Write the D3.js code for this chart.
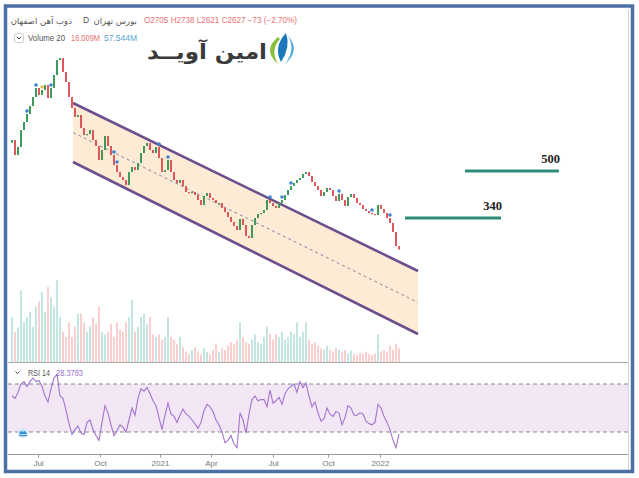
<!DOCTYPE html>
<html><head><meta charset="utf-8">
<script src="https://cdn.jsdelivr.net/npm/d3@7"></script>
<style>html,body{margin:0;padding:0;background:#fff;} svg{display:block;font-family:"Liberation Sans","DejaVu Sans",Arial,sans-serif;}</style>
</head><body><svg id="c" width="639" height="478"></svg>
<script>
// ---- data ----
const closes = [6443,5697,6084,6993,7468,7973,8512,9167,9867,9319,
 9707,10113,9093,9867,10978,12414,12619,11252,10365,9167,
 8374,7781,7909,7108,6712,6768,6993,6443,6134,5468,
 5936,6658,6134,5697,5249,4956,4758,4642,4455,4956,
 5163,5038,5335,5792,6134,6286,5936,5792,6084,5558,
 4956,5038,5468,4956,4642,4529,4642,4420,4207,4173,
 4207,4105,3941,3783,4072,4173,4006,3941,3845,3845,
 3691,3572,3428,3291,3184,3081,3372,3210,2934,2886,
 3210,3400,3513,3543,3631,3941,3845,3752,3691,3845,
 3941,4105,4277,4420,4529,4642,4719,4876,4956,4797,
 4567,4420,4277,4072,4207,4348,4277,4072,3909,4139,
 3941,3752,4038,4139,4006,3845,3783,3661,3601,3543,
 3513,3485,3783,3661,3543,3400,3264,3031,2700,2627];
const firstOpen = 6300;
const volumes = [52,35,40,83,46,52,58,41,64,70,
 81,58,87,75,64,95,52,35,29,46,
 29,41,56,56,46,35,41,52,44,64,
 35,32,35,44,29,46,37,35,46,52,
 72,35,41,52,56,44,52,32,29,32,
 26,29,52,29,26,21,29,17,12,9,
 14,17,12,9,16,12,9,14,21,12,
 16,14,19,23,21,26,46,29,23,21,
 26,32,23,21,29,41,32,26,32,29,
 35,26,29,35,32,46,29,35,46,26,
 21,23,19,16,14,19,14,12,16,14,
 12,14,10,13,9,8,10,9,12,9,
 8,10,32,12,14,12,19,14,21,16];
const rsiValues = [60,58,63,70,72,68,72,75,72,73,
 68,60,55,66,75,78,60,58,48,37,
 28,32,35,29,28,38,40,32,27,23,
 38,52,46,36,27,31,36,34,30,40,
 50,44,58,66,64,67,62,56,52,42,
 32,44,54,45,43,38,44,49,45,43,
 40,37,33,38,48,53,51,47,40,36,
 30,21,23,27,20,17,46,40,29,45,
 57,60,56,57,57,51,65,54,56,59,
 53,62,66,68,70,63,72,67,71,60,
 51,55,46,39,41,50,45,43,47,46,
 36,42,52,50,44,44,46,45,39,37,
 36,38,53,50,43,38,32,23,17,28.38];
const tickIdx = [8.67, 29.33, 49.33, 66.33, 87, 105.33, 122.67];
const tickLabels = ["Jul","Oct","2021","Apr","Jul","Oct","2022"];
const levelValues = [340, 500];          // toman
const levelLabels = ["340", "500"];
const levelFrom = [131, 151];             // bar index
const levelTo = [163, 182.3];
const channelIdx = [20.33, 135.33];
const channelUpper = [8727, 2202];
const channelLower = [5380, 1314];
const rsiBands = [70, 30];
const signalIdx = [5, 8, 13, 34, 35, 49, 52, 86, 90, 93, 109, 120, 126];
const signalAltIdx = [10];
const last = {o:2705, h:2738, l:2621, c:2627};
const volumeNow = "16.009M", volumeMA = "57.544M";
const rsiNow = "28.3783";
const symbolName = "ذوب آهن اصفهان", exchange = "بورس تهران", logoText = "امین آویــد";

// ---- drawing ----
const svg = d3.select("#c");
svg.append("rect").attr("width",639).attr("height",478).attr("fill","#fff");

const x = d3.scaleLinear().domain([0, closes.length-1]).range([12, 399]);
const y = d3.scaleLog().domain([1061.6, 14626]).range([360, 40]);
const yv = d3.scaleLinear().domain([0,95]).range([362,280]);
const yr = d3.scaleLinear().domain([30,70]).range([432,384]);

const candles = closes.map((c,i)=>({i, o: i===0?firstOpen:closes[i-1], c, v: volumes[i]}));
const up = "#3f9a5a", dn = "#e0565a";

// volume
svg.append("g").selectAll("rect").data(candles).join("rect")
  .attr("x", d=>x(d.i)-1).attr("width",2)
  .attr("y", d=>yv(d.v)).attr("height", d=>yv(0)-yv(d.v))
  .attr("fill", d=> d.c>=d.o ? "rgba(38,166,154,0.28)" : "rgba(239,83,80,0.28)");

// channel
const cu = channelIdx.map((i,k)=>[x(i), y(channelUpper[k])]);
const cl = channelIdx.map((i,k)=>[x(i), y(channelLower[k])]);
svg.append("path").attr("d", d3.line()([cu[0],cu[1],cl[1],cl[0]])+"Z")
  .attr("fill","#fdebd6");
const mid = [0,1].map(k=>[cu[k][0], (cu[k][1]+cl[k][1])/2]);
svg.append("path").attr("d", d3.line()(mid)).attr("stroke","#7f8aa0").attr("stroke-width",1)
  .attr("stroke-dasharray","3,3").attr("fill","none");
[cu,cl].forEach(p=>svg.append("path").attr("d", d3.line()(p)).attr("stroke","#6d4f8e")
  .attr("stroke-width",2.6).attr("fill","none"));

// candles
svg.append("g").selectAll("rect").data(candles).join("rect")
  .attr("x", d=>x(d.i)-1).attr("width",2)
  .attr("y", d=>Math.min(y(d.o),y(d.c)))
  .attr("height", d=>Math.max(1.2, Math.abs(y(d.o)-y(d.c))))
  .attr("fill", d=> d.c>=d.o ? up : dn);

// signal dots
svg.append("g").selectAll("circle").data(signalIdx).join("circle")
  .attr("cx", i=>x(i)).attr("cy", i=>Math.min(y(candles[i].o),y(candles[i].c))-3)
  .attr("r",1.8).attr("fill","#3a86c8");
svg.append("g").selectAll("circle").data(signalAltIdx).join("circle")
  .attr("cx", i=>x(i)).attr("cy", i=>Math.min(y(candles[i].o),y(candles[i].c))-3)
  .attr("r",1.8).attr("fill","#e8c24a");

// levels
levelValues.forEach((v,k)=>{
  const yy = y(v*10);
  svg.append("line").attr("x1",x(levelFrom[k])).attr("x2",x(levelTo[k]))
    .attr("y1",yy).attr("y2",yy).attr("stroke","#2e8b78").attr("stroke-width",3);
  svg.append("text").attr("x",x(levelTo[k])+1).attr("y",yy-8).attr("text-anchor","end")
    .attr("font-family","'Liberation Serif',serif").attr("font-weight","bold")
    .attr("font-size",12.5).attr("fill","#222").text(levelLabels[k]);
});

// pane separators
svg.append("line").attr("x1",8).attr("x2",628).attr("y1",362.5).attr("y2",362.5).attr("stroke","#a8a8a8");
// RSI pane
svg.append("rect").attr("x",8).attr("width",620).attr("y",yr(70)).attr("height",yr(30)-yr(70)).attr("fill","#f3e6f5");
rsiBands.forEach(b=>svg.append("line").attr("x1",8).attr("x2",628).attr("y1",yr(b)).attr("y2",yr(b))
  .attr("stroke","#8a8a8a").attr("stroke-dasharray","4,3"));
svg.append("path").datum(rsiValues).attr("d", d3.line().x((d,i)=>x(i)).y(d=>yr(d)))
  .attr("fill","none").attr("stroke","#a274cc").attr("stroke-width",1.1);

// x axis
svg.append("line").attr("x1",8).attr("x2",628).attr("y1",454.5).attr("y2",454.5).attr("stroke","#9a9a9a");
const ax = svg.append("g").attr("transform","translate(0,454.5)")
  .call(d3.axisBottom(x).tickValues(tickIdx).tickFormat((d,k)=>tickLabels[k]).tickSize(3).tickPadding(3));
ax.select(".domain").remove();
ax.selectAll("line").attr("stroke","#9a9a9a");
ax.selectAll("text").attr("fill","#777").attr("font-size",8).attr("font-family","'Liberation Sans',sans-serif");

// right inner edge
svg.append("line").attr("x1",628.5).attr("x2",628.5).attr("y1",10).attr("y2",470).attr("stroke","#d6d6d6");

// header
const hdr = svg.append("g").attr("font-size",8.5);
hdr.append("text").attr("x",72).attr("y",23.5).attr("text-anchor","end").attr("fill","#555")
  .attr("font-family","'DejaVu Sans',sans-serif").attr("font-size",8.5).text(symbolName);
hdr.append("text").attr("x",83).attr("y",23).attr("fill","#555").text("D");
hdr.append("text").attr("x",137).attr("y",23.5).attr("text-anchor","end").attr("fill","#555")
  .attr("font-family","'DejaVu Sans',sans-serif").attr("font-size",8.5).text(exchange);
const prev = closes[closes.length-2];
const chg = last.c - prev;
const pct = Math.abs(chg/prev*100).toFixed(2);
const ohlcTxt = `O${last.o} H${last.h} L${last.l} C${last.c} −${Math.abs(chg)} (−${pct}%)`;
hdr.append("text").attr("x",144).attr("y",23).attr("fill","#e57373")
  .attr("textLength",153).attr("lengthAdjust","spacingAndGlyphs").text(ohlcTxt);
// volume legend
svg.append("rect").attr("x",14.5).attr("y",33.5).attr("width",9).attr("height",9).attr("rx",2)
  .attr("fill","#fff").attr("stroke","#ccc");
svg.append("path").attr("d","M16.8,36.8 L19,39 L21.2,36.8").attr("stroke","#444").attr("fill","none").attr("stroke-width",1);
hdr.append("text").attr("x",28).attr("y",40.5).attr("fill","#555").attr("textLength",37).attr("lengthAdjust","spacingAndGlyphs").text("Volume 20");
hdr.append("text").attr("x",71).attr("y",40.5).attr("fill","#e57373").attr("textLength",29).attr("lengthAdjust","spacingAndGlyphs").text(volumeNow);
hdr.append("text").attr("x",104).attr("y",40.5).attr("fill","#5aa5d2").attr("textLength",33).attr("lengthAdjust","spacingAndGlyphs").text(volumeMA);

// RSI legend
svg.append("path").attr("d","M15.5,371.5 L17.5,373.5 L19.5,371.5").attr("stroke","#444").attr("fill","none").attr("stroke-width",1);
svg.append("text").attr("x",28).attr("y",376).attr("font-size",8.5).attr("fill","#555").attr("textLength",22).attr("lengthAdjust","spacingAndGlyphs").text("RSI 14");
svg.append("text").attr("x",56).attr("y",376).attr("font-size",8.5).attr("fill","#9c6fc9").attr("textLength",27).attr("lengthAdjust","spacingAndGlyphs").text(rsiNow);
// small blue icon in RSI pane
const ic = svg.append("g").attr("transform","translate(23,433)");
ic.append("circle").attr("r",5).attr("fill","#cfe6f6");
ic.append("path").attr("d","M-4,1 Q-2,-4 0,-1 Q2,-4 4,1 Z").attr("fill","#3b8fd0");
ic.append("path").attr("d","M-4,2.5 L4,2.5").attr("stroke","#3b8fd0").attr("stroke-width",1.2);

// logo
const lg = svg.append("g");
lg.append("text").attr("x",267).attr("y",59).attr("text-anchor","end")
  .attr("font-family","'DejaVu Sans',sans-serif").attr("font-weight","bold")
  .attr("font-size",21).attr("fill","#3a3a3a").attr("textLength",120).attr("lengthAdjust","spacingAndGlyphs").text(logoText);
lg.append("path").attr("d","M278,37 Q262,50 278,64 Q270,50 280,39 Z").attr("fill","#8cbf3f");
lg.append("path").attr("d","M286,33 Q273,47 281,62 Q291,47 286,33 Z").attr("fill","#1b78bf");
lg.append("path").attr("d","M288,36 Q301,50 285,64 Q296,50 288,36 Z").attr("fill","#52a9e0");

// outer frame
svg.append("rect").attr("x",5.5).attr("y",6).attr("width",627).attr("height",465.5)
  .attr("fill","none").attr("stroke","#4c6fa6").attr("stroke-width",3.5);
</script></body></html>
